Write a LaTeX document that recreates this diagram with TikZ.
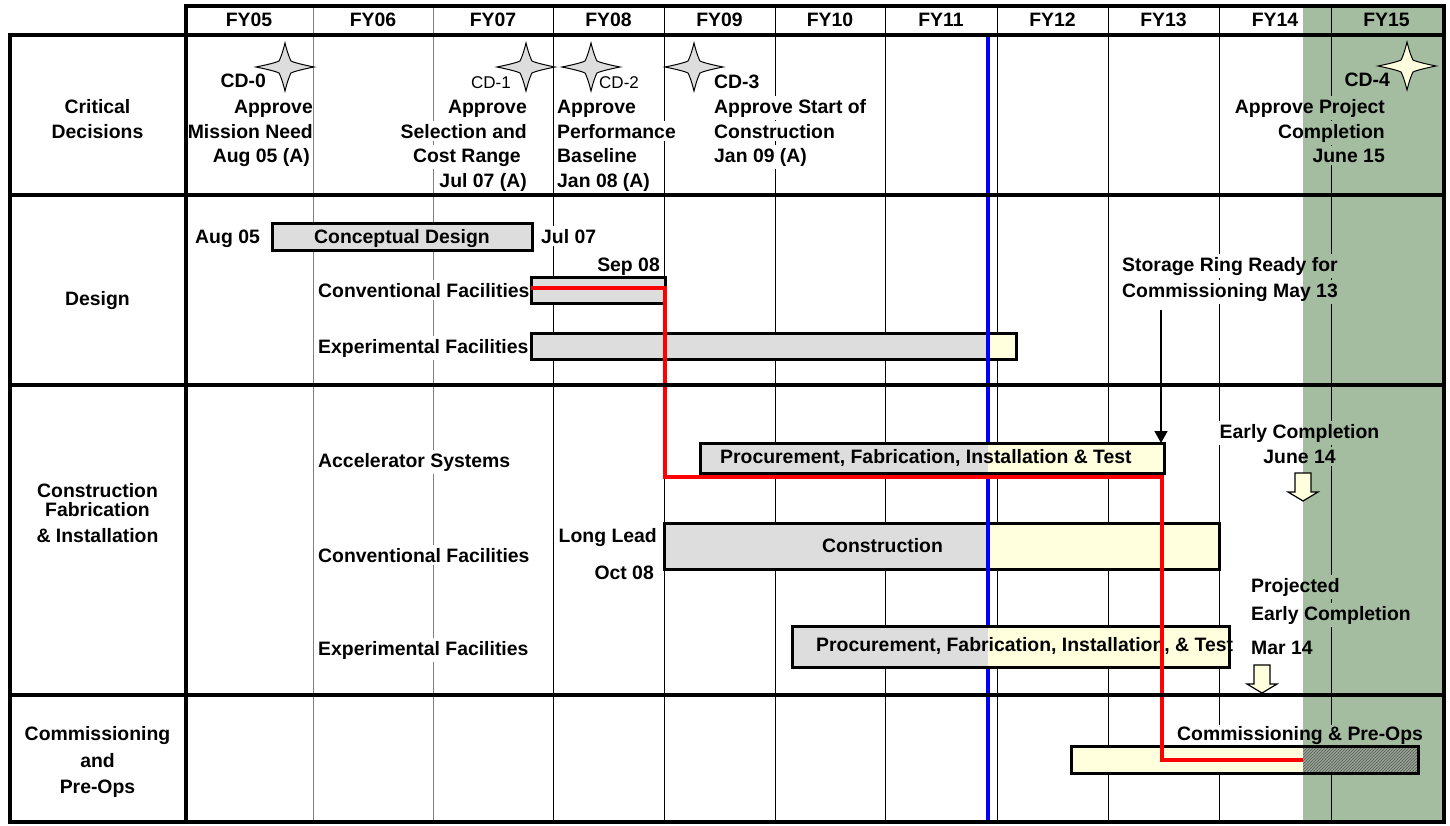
\documentclass[tikz,border=0pt]{standalone}
\usepackage{fontspec}
\setmainfont{Liberation Sans}
\usetikzlibrary{arrows.meta,patterns}
\definecolor{bargray}{HTML}{DDDDDD}
\definecolor{baryel}{HTML}{FFFFDD}
\definecolor{staryel}{HTML}{FFFFE0}
\definecolor{sage}{RGB}{164,188,160}
\definecolor{gridgray}{HTML}{808080}
\pgfdeclarepatternformonly{densehatch}{\pgfqpoint{-1pt}{-1pt}}{\pgfqpoint{4pt}{4pt}}{\pgfqpoint{3pt}{3pt}}{%
  \pgfsetlinewidth{0.75pt}\pgfpathmoveto{\pgfqpoint{-0.1pt}{-0.1pt}}\pgfpathlineto{\pgfqpoint{3.1pt}{3.1pt}}\pgfusepath{stroke}}
\begin{document}
\begin{tikzpicture}[x=1pt,y=-1pt,
  lbl/.style={font=\bfseries\fontsize{19.4}{23}\selectfont, inner xsep=1pt, inner ysep=3pt},
  reg/.style={font=\fontsize{17}{20}\selectfont, inner sep=1pt},
  wb/.style={fill=white},
  framel/.style={line width=4pt, black},
  gridb/.style={line width=1pt, black},
  gridg/.style={line width=1pt, gridgray},
  barb/.style={line width=3pt, black},
  cdstar/.pic={\path[pic actions] (-29,0) .. controls (-14,-3) and (-8,-5) .. (-6,-6) .. controls (-5,-8) and (-3,-12) .. (0,-24)
      .. controls (3,-12) and (5,-8) .. (6,-6) .. controls (8,-5) and (14,-3) .. (29,0)
      .. controls (14,3) and (8,5) .. (6,6) .. controls (5,8) and (3,12) .. (0,24)
      .. controls (-3,12) and (-5,8) .. (-6,6) .. controls (-8,5) and (-14,3) .. (-29,0) -- cycle;},
  blockarrow/.pic={\path[pic actions] (-8,0) -- (8,0) -- (8,19) -- (15,19) -- (0,28) -- (-15,19) -- (-8,19) -- cycle;}
]
\useasboundingbox (0,0) rectangle (1450,825);
\fill[white] (0,0) rectangle (1450,825);

% ---------- grid lines ----------
\foreach \gx in {313,433} \draw[gridg] (\gx,5) -- (\gx,822);
\foreach \gx in {553,664,775,885,997,1108,1219,1331} \draw[gridb] (\gx,5) -- (\gx,822);

% ---------- header labels ----------
\foreach \cx/\t [count=\i] in {249/FY05,373/FY06,493/FY07,608.5/FY08,719.5/FY09,830/FY10,941/FY11,1052.5/FY12,1163.5/FY13,1275/FY14,1386.5/FY15}
  \node[lbl, anchor=base] (fy\i) at (\cx,26) {\t};

% ---------- row labels ----------
\node[lbl, anchor=base] (crit1) at (97.5,113) {Critical};
\node[lbl, anchor=base] (crit2) at (97.5,138) {Decisions};
\node[lbl, anchor=base] (des) at (97.5,305) {Design};
\node[lbl, anchor=base] (con1) at (97.5,497) {Construction};
\node[lbl, anchor=base] (con2) at (97.5,516) {Fabrication};
\node[lbl, anchor=base] (con3) at (97.5,542) {\& Installation};
\node[lbl, anchor=base] (com1) at (97.5,740) {Commissioning};
\node[lbl, anchor=base] (com2) at (97.5,767) {and};
\node[lbl, anchor=base] (com3) at (97.5,793) {Pre-Ops};

% ---------- critical decisions texts ----------
\begin{scope}
\clip (186,36) rectangle (1442,193);
\node[lbl, anchor=base east] (cd0) at (267,87) {CD-0};
\node[lbl, anchor=base east] (cd0a) at (314,113) {Approve};
\node[lbl, anchor=base east] (cd0b) at (314,138) {Mission Need};
\node[lbl, anchor=base east] (cd0c) at (311,162) {Aug 05 (A)};
\end{scope}

\node[reg, anchor=base east] (cd1) at (512,88) {CD-1};
\node[lbl, wb, anchor=base east] (cd1a) at (528,113) {Approve};
\node[lbl, wb, anchor=base east] (cd1b) at (528,138) {Selection and};
\node[lbl, wb, anchor=base east] (cd1c) at (522,162) {Cost Range};
\node[lbl, wb, anchor=base east] (cd1d) at (528,187) {Jul 07 (A)};

\node[reg, anchor=base west] (cd2) at (598,88) {CD-2};
\node[lbl, anchor=base west] (cd2a) at (556,113) {Approve};
\node[lbl, wb, anchor=base west] (cd2b) at (556,138) {Performance};
\node[lbl, anchor=base west] (cd2c) at (556,162) {Baseline};
\node[lbl, anchor=base west] (cd2d) at (556,187) {Jan 08 (A)};

\node[lbl, anchor=base west] (cd3) at (713,88) {CD-3};
\node[lbl, wb, anchor=base west] (cd3a) at (713,113) {Approve Start of};
\node[lbl, wb, anchor=base west] (cd3b) at (713,138) {Construction};
\node[lbl, wb, anchor=base west] (cd3c) at (713,162) {Jan 09 (A)};

\node[lbl, anchor=base east] (cd4) at (1391,86) {CD-4};
\node[lbl, wb, anchor=base east] (cd4a) at (1386,113) {Approve Project};
\node[lbl, wb, anchor=base east] (cd4b) at (1386,138) {Completion};
\node[lbl, wb, anchor=base east] (cd4c) at (1386,162) {June 15};

% ---------- design row ----------
\node[lbl, anchor=base west] (aug05) at (194,243) {Aug 05};
\draw[barb, fill=bargray] (272,223) rectangle (532,250);
\node[lbl, anchor=base] (concept) at (402,243) {Conceptual Design};
\node[lbl, wb, anchor=base west] (jul07) at (540,243) {Jul 07};
\node[lbl, anchor=base east] (sep08) at (661,271) {Sep 08};
\node[lbl, wb, anchor=base west] (dconv) at (317,297) {Conventional Facilities};
\node[lbl, wb, anchor=base west] (dexp) at (317,353) {Experimental Facilities};
\draw[barb, fill=bargray] (531,277) rectangle (665,303);
\fill[bargray] (531,333) rectangle (988,359);
\fill[baryel] (988,333) rectangle (1016,359);
\draw[barb] (531,333) rectangle (1016,359);

\node[lbl, wb, anchor=base west] (sr1) at (1121,271) {Storage Ring Ready for};
\node[lbl, wb, anchor=base west] (sr2) at (1121,297) {Commissioning May 13};

% ---------- construction row ----------
\node[lbl, wb, anchor=base west] (cacc) at (317,467) {Accelerator Systems};
\node[lbl, wb, anchor=base west] (cconv) at (317,562) {Conventional Facilities};
\node[lbl, wb, anchor=base west] (cexp) at (317,655) {Experimental Facilities};
\node[lbl, anchor=base east] (longlead) at (658,542) {Long Lead};
\node[lbl, anchor=base east] (oct08) at (655,579) {Oct 08};

\fill[bargray] (664,523) rectangle (988,569);
\fill[baryel] (988,523) rectangle (1219,569);
\draw[barb] (664,523) rectangle (1219,569);
\node[lbl, anchor=base west] (constr) at (821,552) {Construction};

\node[lbl, wb, anchor=base] (ec1) at (1299.5,438) {Early Completion};
\node[lbl, wb, anchor=base] (ec2) at (1299.5,463) {June 14};
\node[lbl, wb, anchor=base west] (pe1) at (1250,592) {Projected};
\node[lbl, wb, anchor=base west] (pe2) at (1250,620) {Early Completion};
\node[lbl, wb, anchor=base west] (pe3) at (1250,654) {Mar 14};

% ---------- commissioning row ----------
\node[lbl, wb, inner ysep=1pt, anchor=base west] (cpo) at (1176,740) {Commissioning \& Pre-Ops};

% ---------- blue status line ----------
\draw[line width=4pt, blue] (988,37) -- (988,822);

% ---------- bars that hide the status line ----------
\fill[bargray] (700,443) rectangle (988,473);
\fill[baryel] (988,443) rectangle (1164,473);
\draw[barb] (700,443) rectangle (1164,473);
\node[lbl, anchor=base west] (accbar) at (719,463) {Procurement, Fabrication, Installation \& Test};

\fill[bargray] (792,626) rectangle (988,667);
\fill[baryel] (988,626) rectangle (1229,667);
\draw[barb] (792,626) rectangle (1229,667);
\node[lbl, anchor=base west] (expbar) at (815,651) {Procurement, Fabrication, Installation, \& Test};

% ---------- shaded completion window ----------
\begin{scope}[blend mode=multiply]
\fill[sage] (1303,8) rectangle (1442,822);
\end{scope}

% ---------- commissioning bar ----------
\fill[baryel] (1071,746) rectangle (1303,773);
\fill[sage!85!gray] (1303,746) rectangle (1418,773);
\fill[pattern=densehatch, pattern color=black!60] (1303,746) rectangle (1418,773);
\draw[barb] (1071,746) rectangle (1418,773);

% ---------- milestone stars ----------
\pic[draw, fill=bargray, line width=1pt] (s0) at (285,67) {cdstar};
\pic[draw, fill=bargray, line width=1pt] (s1) at (526,67) {cdstar};
\pic[draw, fill=bargray, line width=1pt] (s2) at (591,67) {cdstar};
\pic[draw, fill=bargray, line width=1pt] (s3) at (694,67) {cdstar};
\pic[draw, fill=staryel, line width=1pt] (s4) at (1407,66) {cdstar};

% ---------- block arrows ----------
\pic[draw, fill=baryel, line width=1.2pt] (ba1) at (1303,473) {blockarrow};
\pic[draw, fill=baryel, line width=1.2pt] (ba2) at (1262,665) {blockarrow};

% ---------- storage ring arrow ----------
\coordinate (srfoot) at (1161,310);
\coordinate (acctop) at (1161,443);
\draw[line width=1.5pt, -{Triangle[width=13pt,length=12pt]}] (srfoot) -- (acctop);

% ---------- critical path ----------
\coordinate (r1) at (531,288);
\coordinate (r2) at (665,288);
\coordinate (r3) at (665,477);
\coordinate (r4) at (1162,477);
\coordinate (r5) at (1162,760);
\coordinate (r6) at (1303,760);
\draw[line width=4.5pt, red] (r1) -- (r2) -- (r3) -- (r4) -- (r5) -- (r6);

% ---------- frame ----------
\draw[framel] (185.5,5.5) rectangle (1444,822);
\draw[framel] (10,35) rectangle (1444,822);
\foreach \ry in {195,385,695} \draw[framel] (10,\ry) -- (1444,\ry);
\end{tikzpicture}
\end{document}
